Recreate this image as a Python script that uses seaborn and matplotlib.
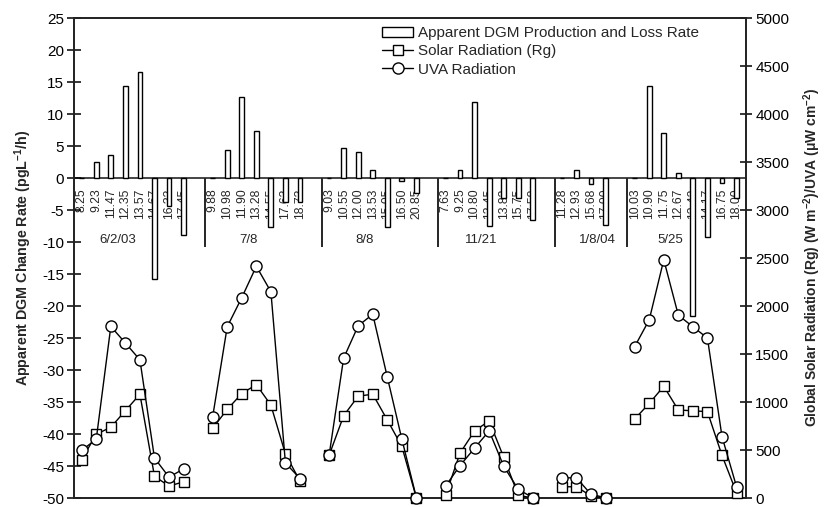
import numpy as np
import pandas as pd
import matplotlib
matplotlib.use("Agg")
import matplotlib.pyplot as plt
import seaborn as sns
from matplotlib.lines import Line2D
from matplotlib.patches import Patch

# ---------------- data ----------------
dates = ["6/2/03", "7/8", "8/8", "11/21", "1/8/04", "5/25"]
times = [
    ["8.25", "9.23", "11.47", "12.35", "13.57", "14.67", "16.33", "17.45"],
    ["9.88", "10.98", "11.90", "13.28", "14.55", "17.63", "18.73"],
    ["9.03", "10.55", "12.00", "13.53", "15.05", "16.50", "20.85"],
    ["7.63", "9.25", "10.80", "12.45", "13.83", "15.75", "17.58"],
    ["11.28", "12.93", "15.68", "17.00"],
    ["10.03", "10.90", "11.75", "12.67", "13.42", "14.17", "16.75", "18.00"],
]
dgm_rate = [
    [0, 2.5, 3.6, 14.4, 16.5, -15.8, -4.3, -8.9],
    [0, 4.3, 12.6, 7.4, -7.7, -3.8, -3.8],
    [0, 4.65, 4.0, 1.3, -7.6, -0.4, -2.4],
    [0, 1.3, 11.9, -7.5, -3.2, -3.2, -6.6],
    [0, 1.2, -0.9, -7.3],
    [0, 14.4, 7.0, 0.8, -21.5, -9.15, -0.8, -3.2],
]
solar_rg = [
    [400, 664, 737, 909, 1081, 227, 124, 169],
    [727, 923, 1088, 1181, 968, 458, 176],
    [444, 857, 1061, 1081, 813, 537, 0],
    [28, 468, 699, 803, 424, 28, 0],
    [117, 117, 21, 0],
    [823, 985, 1164, 916, 909, 899, 444, 55],
]
uva = [
    [496, 613, 1787, 1615, 1439, 417, 217, 303],
    [847, 1784, 2087, 2414, 2149, 365, 203],
    [444, 1457, 1794, 1914, 1260, 613, 3],
    [124, 338, 520, 699, 331, 90, 3],
    [210, 210, 38, 3],
    [1577, 1856, 2482, 1904, 1784, 1666, 640, 117],
]
left_ticks = list(range(-50, 26, 5))
right_ticks = list(range(0, 5001, 500))

# ---------------- layout of slots ----------------
rows = []
centers, separators = [], []
i = 0
for gi, (d, ts) in enumerate(zip(dates, times)):
    start = i
    if gi > 0:
        separators.append(start - 0.5)
    for k, t in enumerate(ts):
        rows.append(dict(pos=i, date=d, time=t, rate=dgm_rate[gi][k],
                         rg=solar_rg[gi][k], uva=uva[gi][k]))
        i += 1
    centers.append(start + 2.45)
    i += 1
df = pd.DataFrame(rows)

# ---------------- style ----------------
sns.set_style("ticks")
plt.rcParams["font.family"] = ["Liberation Sans", "DejaVu Sans"]
plt.rcParams["mathtext.default"] = "regular"
plt.rcParams["axes.linewidth"] = 1.2
plt.rcParams["axes.unicode_minus"] = False

W, H = 832, 507
top_px, bot_px = 18, 498
fig = plt.figure(figsize=(W / 100, H / 100), dpi=100)
ax = fig.add_axes([74 / W, (H - bot_px) / H, (746 - 74) / W,
                   (bot_px - top_px) / H])

ymin, ymax = -50, 25
sns.barplot(data=df, x="pos", y="rate", native_scale=True, orient="x",
            width=0.33, color="white", edgecolor="black", linewidth=1.0,
            errorbar=None, ax=ax, zorder=3)
ax.set_ylim(ymin, ymax)
ax.set_yticks(left_ticks)
ax.set_xlim(-0.53, 45.65)
ax.set_xlabel("")
ax.set_ylabel("Apparent DGM Change Rate (pgL$^{-1}$/h)", fontsize=10.3,
              fontweight="bold", labelpad=6)
ax.tick_params(axis="x", bottom=False, labelbottom=False)
ax.tick_params(axis="y", direction="inout", length=9.4, width=1.1,
               labelsize=11, pad=2.5, colors="black")
for s in ax.spines.values():
    s.set_visible(True)
    s.set_color("black")

# zero line with time labels and separators
zero_frac = (0 - ymin) / (ymax - ymin)
sec = ax.secondary_xaxis(zero_frac)
sec.set_alignment("bottom")
sec.set_ticks(df["pos"].tolist(), labels=df["time"].tolist())
sec.set_ticks(separators, minor=True)
sec.tick_params(which="major", length=0, pad=7.5, labelsize=8.8,
                labelrotation=90)
sec.tick_params(which="minor", length=50, width=1.2, direction="out",
                color="black")
sec.spines["bottom"].set_linewidth(1.2)

sec2 = ax.secondary_xaxis(zero_frac)
sec2.set_alignment("bottom")
sec2.set_ticks(centers, labels=dates)
sec2.tick_params(which="major", length=0, pad=40, labelsize=9.5)
sec2.tick_params(which="minor", length=0)
for s in sec2.spines.values():
    s.set_visible(False)

# radiation lines
ax2 = ax.twinx()
sns.lineplot(data=df, x="pos", y="rg", units="date", estimator=None,
             color="black", linewidth=1.0, marker="s", markersize=7,
             markerfacecolor="white", markeredgecolor="black",
             markeredgewidth=1.0, clip_on=False, ax=ax2, legend=False,
             zorder=4)
sns.lineplot(data=df, x="pos", y="uva", units="date", estimator=None,
             color="black", linewidth=1.0, marker="o", markersize=8,
             markerfacecolor="white", markeredgecolor="black",
             markeredgewidth=1.0, clip_on=False, ax=ax2, legend=False,
             zorder=5)
ax2.set_ylim(0, 5000)
ax2.set_yticks(right_ticks)
ax2.set_xlim(-0.53, 45.65)
ax2.set_xlabel("")
ax2.tick_params(axis="x", bottom=False, labelbottom=False, top=False)
ax2.tick_params(axis="y", direction="inout", length=8.4, width=1.1,
               labelsize=11, pad=2.5, colors="black")
ax2.set_ylabel("Global Solar Radiation (Rg) (W m$^{-2}$)/UVA (\u03bcW cm$^{-2}$)",
               fontsize=10, fontweight="bold", labelpad=9)

handles = [
    Patch(facecolor="white", edgecolor="black", linewidth=1.0),
    Line2D([], [], color="black", lw=1.0, marker="s", markersize=7,
           markerfacecolor="white", markeredgecolor="black"),
    Line2D([], [], color="black", lw=1.0, marker="o", markersize=8,
           markerfacecolor="white", markeredgecolor="black"),
]
labels = ["Apparent DGM Production and Loss Rate", "Solar Radiation (Rg)",
          "UVA Radiation"]
ax2.legend(handles, labels, loc="upper left",
           bbox_to_anchor=((382 - 74) / 672, (bot_px - 26) / (bot_px - top_px)),
           frameon=False, borderpad=0, borderaxespad=0, handlelength=2.05,
           handleheight=0.65, handletextpad=0.3, labelspacing=0.28,
           fontsize=11)

fig.savefig("out.png", dpi=100)
